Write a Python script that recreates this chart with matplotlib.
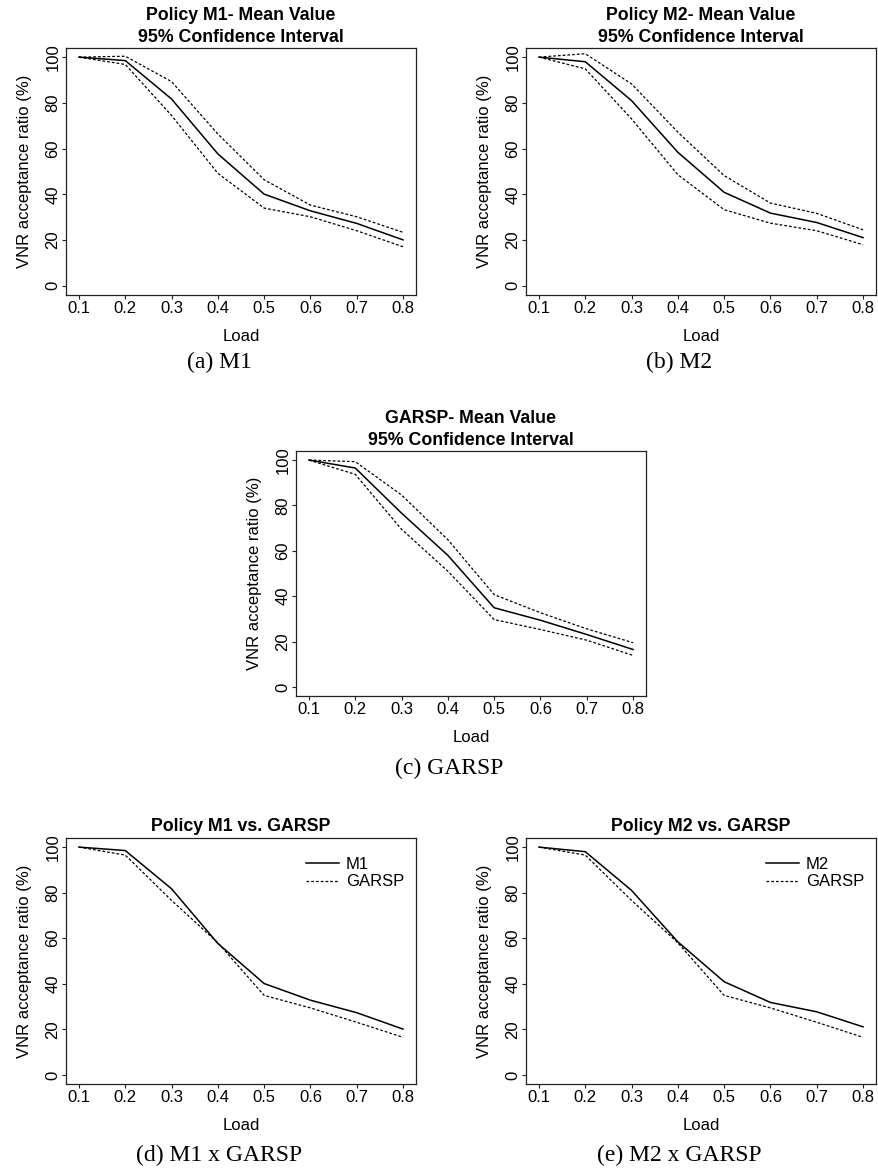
import numpy as np
import matplotlib
matplotlib.use("Agg")
import matplotlib.pyplot as plt

plt.rcParams['font.family'] = ['Liberation Sans', 'DejaVu Sans']

load = [0.1, 0.2, 0.3, 0.4, 0.5, 0.6, 0.7, 0.8]

# Policy M1
m1_mean = [100, 98.5, 81.7, 57.7, 40.1, 32.8, 27.3, 20.1]
m1_up = [100, 100.4, 89.3, 66.4, 46.4, 35.3, 30.2, 23.4]
m1_low = [100, 96.8, 74.5, 49.2, 34.0, 30.2, 24.1, 17.1]

# Policy M2
m2_mean = [100, 98.0, 81.0, 58.4, 40.9, 31.8, 27.7, 21.1]
m2_up = [100, 101.5, 88.3, 67.2, 48.2, 36.2, 31.7, 24.5]
m2_low = [100, 94.9, 73.0, 48.6, 33.3, 27.4, 24.1, 18.0]

# GARSP
g_mean = [100, 96.5, 76.6, 58.0, 34.9, 29.4, 23.1, 16.5]
g_up = [100, 99.3, 84.6, 64.9, 40.7, 32.7, 25.6, 19.5]
g_low = [100, 93.7, 69.5, 51.0, 29.7, 25.3, 20.6, 13.9]

xticks = [0.1, 0.2, 0.3, 0.4, 0.5, 0.6, 0.7, 0.8]
yticks = [0, 20, 40, 60, 80, 100]

W, H = 879, 1169
fig = plt.figure(figsize=(W / 100, H / 100), dpi=100)

DASH = (0, (2.2, 1.6))


def panel(left, top, right, bottom):
    ax = fig.add_axes([left / W, 1 - bottom / H, (right - left) / W, (bottom - top) / H])
    ax.set_xlim(0.072, 0.828)
    ax.set_ylim(-4, 104)
    ax.set_xticks(xticks)
    ax.set_xticklabels([str(t) for t in xticks])
    ax.set_yticks(yticks)
    ax.set_yticklabels([str(t) for t in yticks], rotation=90, va='center')
    ax.tick_params(direction='out', length=3, width=0.8, labelsize=12, color='#222222')
    ax.tick_params(axis='x', pad=1)
    ax.tick_params(axis='y', pad=1)
    for s in ax.spines.values():
        s.set_linewidth(0.9)
        s.set_color('#222222')
    ax.set_xlabel('Load', fontsize=12, labelpad=10)
    ax.set_ylabel('VNR acceptance ratio (%)', fontsize=12, labelpad=10)
    return ax


def caption(left, right, y, text):
    cx = (left + right) / 2 - 22
    fig.text(cx / W, 1 - y / H, text, family='Liberation Serif',
             fontsize=17, ha='center', va='center')


def ci_panel(left, top, right, bottom, mean, up, low, title, cap, cap_y):
    ax = panel(left, top, right, bottom)
    ax.plot(load, mean, color='black', lw=1.1)
    ax.plot(load, up, color='black', lw=0.9, linestyle=DASH)
    ax.plot(load, low, color='black', lw=0.9, linestyle=DASH)
    ax.set_title(title, fontsize=12.8, fontweight='bold', pad=4, linespacing=1.45)
    caption(left, right, cap_y, cap)
    return ax


def vs_panel(left, top, right, bottom, mean, name, title, cap, cap_y):
    ax = panel(left, top, right, bottom)
    ax.plot(load, mean, color='black', lw=1.1, label=name)
    ax.plot(load, g_mean, color='black', lw=0.9, linestyle=DASH, label='GARSP')
    ax.set_title(title, fontsize=12.8, fontweight='bold', pad=5)
    ax.legend(loc='upper right', bbox_to_anchor=(0.985, 0.95), frameon=False,
              fontsize=12, handlelength=2.0, handletextpad=0.4, labelspacing=0.15,
              borderaxespad=0)
    caption(left, right, cap_y, cap)
    return ax


ci_panel(66, 48, 416, 295, m1_mean, m1_up, m1_low,
         'Policy M1- Mean Value\n95% Confidence Interval', '(a) M1', 362)
ci_panel(526, 48, 876, 295, m2_mean, m2_up, m2_low,
         'Policy M2- Mean Value\n95% Confidence Interval', '(b) M2', 362)
ci_panel(296, 451, 646, 696, g_mean, g_up, g_low,
         'GARSP- Mean Value\n95% Confidence Interval', '(c) GARSP', 768)
vs_panel(66, 838, 416, 1084, m1_mean, 'M1', 'Policy M1 vs. GARSP', '(d) M1 x GARSP', 1155)
vs_panel(526, 838, 876, 1084, m2_mean, 'M2', 'Policy M2 vs. GARSP', '(e) M2 x GARSP', 1155)

fig.savefig('out.png', dpi=100)
